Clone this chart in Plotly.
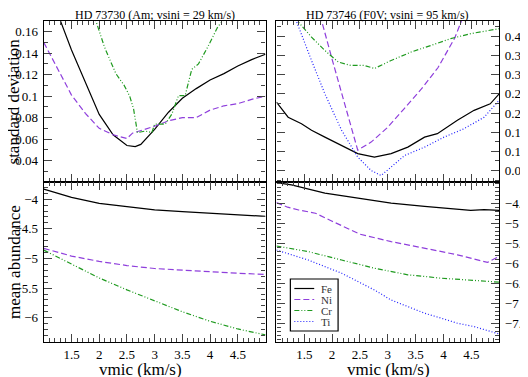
import plotly.graph_objects as go

# HD 73730 - standard deviation
a_fe_x = [1.0, 1.25, 1.5, 1.75, 2.0, 2.25, 2.5, 2.65, 2.75, 3.0, 3.25, 3.5, 3.75, 4.0, 4.25, 4.5, 4.75, 5.0]
a_fe_sd = [0.205, 0.177, 0.143, 0.113, 0.083, 0.064, 0.054, 0.053, 0.055, 0.069, 0.085, 0.098, 0.107, 0.115, 0.121, 0.128, 0.134, 0.139]
a_ni_x = [1.0, 1.25, 1.5, 1.75, 2.0, 2.25, 2.5, 2.6, 2.75, 3.0, 3.25, 3.5, 3.75, 4.0, 4.25, 4.5, 4.75, 5.0]
a_ni_sd = [0.150, 0.125, 0.101, 0.084, 0.070, 0.064, 0.0605, 0.0655, 0.068, 0.072, 0.077, 0.080, 0.080, 0.087, 0.091, 0.093, 0.097, 0.100]
a_cr_x = [1.75, 1.94, 2.1, 2.3, 2.45, 2.55, 2.62, 2.69, 2.83, 2.95, 3.0, 3.19, 3.31, 3.43, 3.55, 3.67, 3.79, 3.96, 4.14, 4.23, 4.4]
a_cr_sd = [0.20, 0.170, 0.145, 0.121, 0.110, 0.100, 0.088, 0.066, 0.0675, 0.066, 0.074, 0.074, 0.0832, 0.1005, 0.1005, 0.125, 0.130, 0.146, 0.1647, 0.170, 0.19]

# HD 73730 - mean abundance
a_ab_x = [1.0, 1.5, 2.0, 2.5, 3.0, 3.5, 4.0, 4.5, 5.0]
a_fe_ab = [-3.83, -3.97, -4.07, -4.13, -4.18, -4.21, -4.24, -4.27, -4.29]
a_ni_ab = [-4.83, -4.96, -5.05, -5.12, -5.17, -5.20, -5.23, -5.25, -5.27]
a_cr_ab = [-4.86, -5.10, -5.33, -5.53, -5.72, -5.90, -6.06, -6.19, -6.29]

# HD 73746 - standard deviation
b_fe_x = [1.0, 1.21, 1.45, 1.63, 1.87, 2.17, 2.46, 2.76, 3.06, 3.36, 3.66, 3.89, 4.25, 4.55, 4.84, 5.0]
b_fe_sd = [0.2285, 0.189, 0.172, 0.155, 0.137, 0.115, 0.094, 0.085, 0.094, 0.111, 0.137, 0.146, 0.181, 0.207, 0.224, 0.250]
b_ni_x = [1.7, 1.81, 2.0, 2.2, 2.35, 2.46, 2.7, 3.0, 3.3, 3.6, 3.9, 4.2, 4.35, 4.5]
b_ni_sd = [0.50, 0.44, 0.34, 0.237, 0.16, 0.103, 0.124, 0.163, 0.212, 0.262, 0.318, 0.395, 0.45, 0.50]
b_cr_x = [1.2, 1.38, 1.63, 1.87, 2.11, 2.34, 2.58, 2.76, 3.06, 3.42, 3.77, 4.13, 4.49, 5.0]
b_cr_sd = [0.48, 0.44, 0.398, 0.363, 0.333, 0.324, 0.324, 0.316, 0.337, 0.359, 0.376, 0.394, 0.407, 0.420]
b_ti_x = [1.2, 1.36, 1.63, 1.87, 2.17, 2.46, 2.7, 2.88, 3.06, 3.3, 3.66, 4.01, 4.37, 4.73, 5.0]
b_ti_sd = [0.52, 0.439, 0.337, 0.250, 0.155, 0.085, 0.05, 0.037, 0.059, 0.089, 0.111, 0.137, 0.159, 0.189, 0.233]

# HD 73746 - mean abundance
b_fe_abx = [1.0, 1.27, 1.87, 2.46, 3.06, 3.66, 4.25, 4.49, 4.73, 5.0]
b_fe_ab = [-3.985, -4.04, -4.25, -4.375, -4.5, -4.58, -4.65, -4.68, -4.66, -4.68]
b_ni_abx = [1.0, 1.2, 1.4, 1.7, 2.0, 2.5, 3.06, 3.66, 4.25, 4.79, 5.0]
b_ni_ab = [-4.485, -4.6, -4.67, -4.75, -4.95, -5.275, -5.46, -5.625, -5.79, -5.98, -5.83]
b_cr_abx = [1.0, 1.57, 2.17, 2.76, 3.36, 3.96, 4.55, 5.0]
b_cr_ab = [-5.57, -5.71, -5.92, -6.125, -6.29, -6.375, -6.43, -6.475]
b_ti_abx = [1.0, 1.57, 2.17, 2.46, 2.76, 3.06, 3.36, 3.66, 3.96, 4.25, 4.55, 5.0]
b_ti_ab = [-5.67, -5.92, -6.25, -6.46, -6.67, -6.92, -7.085, -7.25, -7.375, -7.5, -7.585, -7.77]

x_ticks = [1.5, 2, 2.5, 3, 3.5, 4, 4.5]
elements = ['Fe', 'Ni', 'Cr', 'Ti']

FONT = "Liberation Serif"
styles = {
    'Fe': dict(color='black', dash='solid', width=1.2),
    'Ni': dict(color='#8f3fdc', dash='6px,3px', width=1.2),
    'Cr': dict(color='#1f9a1f', dash='5px,2px,1px,2px,1px,2px', width=1.2),
    'Ti': dict(color='#2020ff', dash='1px,2px', width=1.2),
}

# the page body has an 8px margin, so the figure is laid out in page pixels minus 8
W, H, OFF = 520, 369, 8
def px(x):
    return (x - OFF) / W
def py(y):
    return 1 - (y - OFF) / H

fig = go.Figure()

def add(x, y, el, ax):
    fig.add_trace(go.Scatter(x=x, y=y, mode='lines', name=el, line=styles[el],
                             xaxis='x' + ax, yaxis='y' + ax, showlegend=False))

add(a_fe_x, a_fe_sd, 'Fe', '')
add(a_ni_x, a_ni_sd, 'Ni', '')
add(a_cr_x, a_cr_sd, 'Cr', '')
add(b_fe_x, b_fe_sd, 'Fe', '2')
add(b_ni_x, b_ni_sd, 'Ni', '2')
add(b_cr_x, b_cr_sd, 'Cr', '2')
add(b_ti_x, b_ti_sd, 'Ti', '2')
add(a_ab_x, a_fe_ab, 'Fe', '3')
add(a_ab_x, a_ni_ab, 'Ni', '3')
add(a_ab_x, a_cr_ab, 'Cr', '3')
add(b_fe_abx, b_fe_ab, 'Fe', '4')
add(b_ni_abx, b_ni_ab, 'Ni', '4')
add(b_cr_abx, b_cr_ab, 'Cr', '4')
add(b_ti_abx, b_ti_ab, 'Ti', '4')

L = [px(44), px(267)]
R = [px(278), px(502)]
TOP = [py(182), py(21)]
BOT = [py(342), py(182)]

def xax(dom, anchor, labels):
    return dict(domain=dom, anchor=anchor, range=[1, 5], tickvals=x_ticks,
                showticklabels=labels, ticks='inside', ticklen=8, tickwidth=1,
                minor=dict(dtick=0.1, tick0=1, ticks='inside', ticklen=4, tickwidth=1),
                showline=True, linecolor='black', linewidth=1.2, mirror='allticks',
                showgrid=False, zeroline=False,
                tickfont=dict(family=FONT, size=13, color='black'))

def yax(dom, anchor, rng, vals, minor, side):
    return dict(domain=dom, anchor=anchor, range=rng, tickvals=vals, side=side,
                ticks='inside', ticklen=8, tickwidth=1, ticklabelstandoff=2,
                minor=dict(dtick=minor, tick0=0, ticks='inside', ticklen=4, tickwidth=1),
                showline=True, linecolor='black', linewidth=1.2, mirror='allticks',
                showgrid=False, zeroline=False,
                tickfont=dict(family=FONT, size=13, color='black'))

fig.update_layout(
    width=W, height=H,
    margin=dict(l=0, r=0, t=0, b=0),
    plot_bgcolor='white', paper_bgcolor='white',
    showlegend=False,
    xaxis=xax(L, 'y', False),
    yaxis=yax(TOP, 'x', [0.02, 0.17], [0.04, 0.06, 0.08, 0.1, 0.12, 0.14, 0.16], 0.01, 'left'),
    xaxis2=xax(R, 'y2', False),
    yaxis2=yax(TOP, 'x2', [0.02, 0.44], [0.05, 0.1, 0.15, 0.2, 0.25, 0.3, 0.35, 0.4], 0.025, 'right'),
    xaxis3=xax(L, 'y3', True),
    yaxis3=yax(BOT, 'x3', [-6.41, -3.71], [-6, -5.5, -5, -4.5, -4], 0.1, 'left'),
    xaxis4=xax(R, 'y4', True),
    yaxis4=yax(BOT, 'x4', [-7.97, -3.97], [-7.5, -7, -6.5, -6, -5.5, -5, -4.5], 0.1, 'right'),
)

# legend box drawn by hand inside the lower right panel
fig.add_shape(type='rect', xref='paper', yref='paper', x0=px(292), x1=px(340),
              y0=py(331), y1=py(279), line=dict(color='black', width=1.2),
              fillcolor='white', layer='above')
for i, el in enumerate(elements):
    yy = py(288.5 + i * 11)
    st = styles[el]
    fig.add_shape(type='line', xref='paper', yref='paper', x0=px(296), x1=px(316),
                  y0=yy, y1=yy, line=dict(color=st['color'], dash=st['dash'], width=1.2),
                  layer='above')
    fig.add_annotation(x=px(321), y=yy, xref='paper', yref='paper', text=el,
                       showarrow=False, xanchor='left', yanchor='middle',
                       font=dict(family=FONT, size=11, color='#333'))

notes = [
    (155.5, 15, "HD 73730 (Am; vsini = 29 km/s)", 12, 0),
    (390, 15, "HD 73746 (F0V; vsini = 95 km/s)", 12, 0),
    (14, 101.5, "standard deviation", 17, -90),
    (14, 262, "mean abundance", 17, -90),
    (141, 369, "vmic (km/s)", 17, 0),
    (391, 369, "vmic (km/s)", 17, 0),
]
for x, y, t, s, ang in notes:
    fig.add_annotation(x=px(x), y=py(y), xref='paper', yref='paper', text=t,
                       showarrow=False, textangle=ang, xanchor='center', yanchor='middle',
                       font=dict(family=FONT, size=s, color='black'))

fig.write_html("out.html")
